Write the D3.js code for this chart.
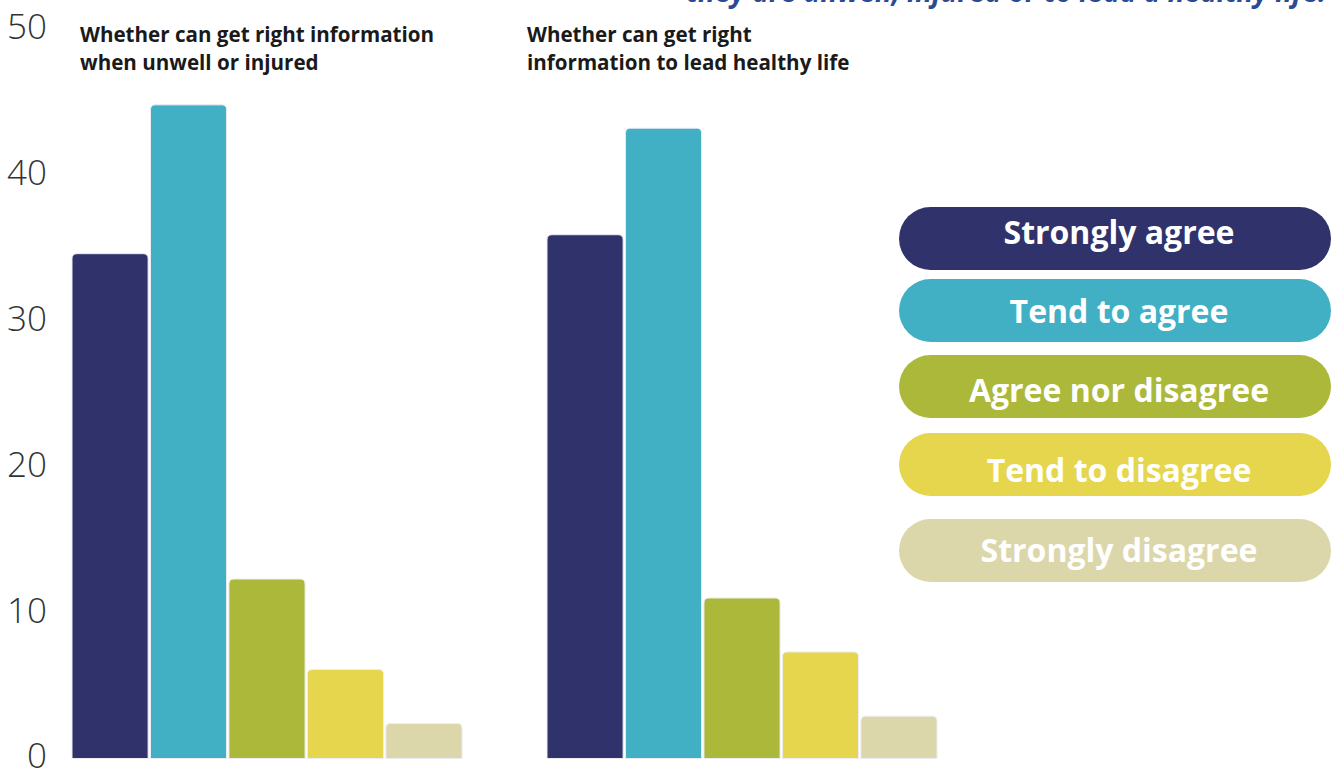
<!DOCTYPE html>
<html>
<head>
<meta charset="utf-8">
<script src="https://cdn.jsdelivr.net/npm/d3@7"></script>
<style>
  html, body { margin: 0; padding: 0; background: #fff; }
  svg { display: block; }
</style>
</head>
<body>
<svg id="chart" width="1334" height="769"></svg>
<script>
// Response categories, in legend order
const categories = ["Strongly agree", "Tend to agree", "Agree nor disagree", "Tend to disagree", "Strongly disagree"];
const colors = ["#30336b", "#41afc4", "#abb83a", "#e6d64d", "#dcd7ab"];

// Panel titles
const panelTitles = [
  ["Whether can get right information", "when unwell or injured"],
  ["Whether can get right", "information to lead healthy life"]
];

// Percent of respondents per category, one array per panel
const unwellValues = [34.6, 44.8, 12.3, 6.1, 2.4];
const healthyValues = [35.9, 43.2, 11.0, 7.3, 2.9];
const panelValues = [unwellValues, healthyValues];

// Y axis ticks
const yTicks = [0, 10, 20, 30, 40, 50];

const headline = "they are unwell, injured or to lead a healthy life.";

const svg = d3.select("#chart");
const font = "'Open Sans', 'Noto Sans', sans-serif";

const y = d3.scaleLinear().domain([0, 50]).range([758.5, 29]);

// Y axis labels (no line, no tick marks)
const yAxis = d3.axisLeft(y).tickValues(yTicks).tickSize(0).tickPadding(0);
const gAxis = svg.append("g").attr("transform", "translate(47,0)").call(yAxis);
gAxis.select(".domain").remove();
gAxis.selectAll("text")
  .attr("font-family", font)
  .attr("font-weight", 300)
  .attr("font-size", 35)
  .attr("fill", "#333")
  .attr("dy", "0.27em");

// Headline running off the top edge
svg.append("text")
  .attr("x", 1326).attr("y", 2)
  .attr("text-anchor", "end")
  .attr("font-family", font)
  .attr("font-weight", 700)
  .attr("font-style", "italic")
  .attr("font-size", 28)
  .attr("fill", "#2b4a94")
  .text(headline);

// Rounded-top bar path
function topRounded(x0, y0, w, h, r) {
  r = Math.min(r, h, w / 2);
  return `M${x0},${y0 + h}V${y0 + r}Q${x0},${y0} ${x0 + r},${y0}H${x0 + w - r}Q${x0 + w},${y0} ${x0 + w},${y0 + r}V${y0 + h}Z`;
}

const panelX = [72, 547];
const x = d3.scaleBand().domain(categories).range([0, 390]).paddingInner(0.03).paddingOuter(0);

panelValues.forEach((vals, p) => {
  const g = svg.append("g").attr("transform", `translate(${panelX[p]},0)`);
  g.selectAll("path.bar")
    .data(vals)
    .join("path")
    .attr("class", "bar")
    .attr("d", (d, i) => topRounded(x(categories[i]), y(d), x.bandwidth(), y(0) - y(d), 5))
    .attr("fill", (d, i) => colors[i])
    .attr("stroke", "#ececf2")
    .attr("stroke-width", 1);

  const t = svg.append("text")
    .attr("font-family", font)
    .attr("font-weight", 700)
    .attr("font-size", 20.6)
    .attr("fill", "#1a1a1a");
  panelTitles[p].forEach((line, k) => {
    t.append("tspan")
      .attr("x", panelX[p] + (p === 0 ? 8 : -20))
      .attr("y", 42 + k * 28)
      .text(line);
  });
});

// Legend pills
const legendTop = [207, 279, 355, 433, 519];
const legendBaseline = [243.5, 323, 402, 482, 562];
const legend = svg.append("g");
categories.forEach((c, i) => {
  legend.append("rect")
    .attr("x", 899).attr("y", legendTop[i])
    .attr("width", 432).attr("height", 63)
    .attr("rx", 31.5)
    .attr("fill", colors[i]);
  legend.append("text")
    .attr("x", 1119).attr("y", legendBaseline[i])
    .attr("text-anchor", "middle")
    .attr("font-family", font)
    .attr("font-weight", 700)
    .attr("font-size", 32)
    .attr("fill", "#fff")
    .text(c);
});
</script>
</body>
</html>
